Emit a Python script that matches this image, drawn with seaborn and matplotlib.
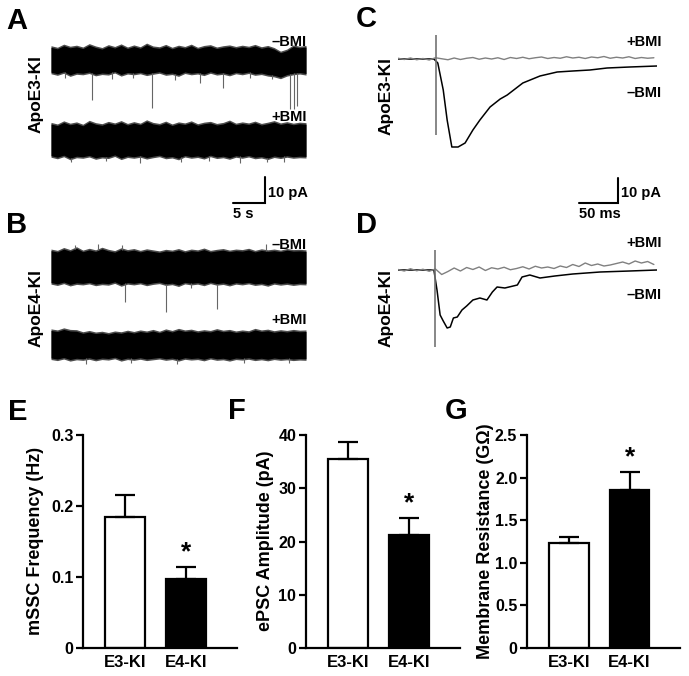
import numpy as np
import pandas as pd
import seaborn as sns
import matplotlib
import matplotlib.pyplot as plt
matplotlib.use('Agg')

# ---- data ----
# bar panels (mean, SEM)
groups = ['E3-KI', 'E4-KI']
freq_mean = [0.184, 0.097]
freq_sem = [0.031, 0.017]
amp_mean = [35.5, 21.2]
amp_sem = [3.2, 3.2]
res_mean = [1.23, 1.85]
res_sem = [0.07, 0.22]

# mini-current recordings (A, B): noise envelope (pA around baseline) every 1 s
band_t = np.linspace(0, 40, 41)
a_minus_top = [4.9, 4.3, 5.5, 4.7, 5.1, 4.4, 5.7, 4.8, 4.2, 5.3, 4.6, 5.6, 4.4, 5.2, 4.5, 5.9, 4.8, 4.5, 5.4, 4.3, 5.1,
               4.6, 5.5, 4.3, 5.0, 5.3, 4.4, 4.9, 5.2, 4.6, 5.1, 4.7, 5.4, 4.5, 5.0, 4.2, 2.8, 3.6, 5.2, 4.7, 5.0]
a_minus_bot = [-4.7, -5.3, -4.5, -5.7, -4.9, -5.1, -4.6, -5.5, -5.0, -5.2, -4.4, -5.6, -4.8, -5.1, -4.7, -5.4, -4.9,
               -4.5, -5.3, -5.0, -5.7, -4.6, -5.1, -4.8, -5.4, -4.5, -5.2, -4.9, -5.5, -4.7, -5.1, -4.6, -5.3, -5.0,
               -5.6, -5.9, -6.6, -5.6, -5.1, -4.8, -5.2]
a_plus_top = [6.2, 5.6, 6.8, 5.9, 6.4, 5.5, 7.0, 6.1, 5.7, 6.6, 6.0, 6.9, 5.8, 6.5, 5.9, 7.2, 6.2, 5.8, 6.7, 5.6, 6.4,
              6.0, 6.8, 5.7, 6.3, 6.6, 5.8, 6.2, 7.1, 5.9, 6.4, 6.0, 6.7, 5.8, 6.3, 6.9, 6.0, 6.5, 5.9, 6.3, 6.1]
a_plus_bot = [-6.0, -6.6, -5.8, -7.0, -6.2, -6.4, -5.9, -6.8, -6.3, -6.5, -5.7, -6.9, -6.1, -6.4, -6.0, -6.7, -6.2,
              -5.8, -6.6, -6.3, -7.0, -5.9, -6.4, -6.1, -6.7, -5.8, -6.5, -6.2, -6.8, -6.0, -6.4, -5.9, -6.6, -6.3,
              -6.9, -6.1, -6.5, -6.0, -6.4, -6.2, -6.3]
b_minus_top = [6.3, 5.8, 6.9, 6.1, 7.2, 5.9, 6.6, 6.0, 7.0, 6.2, 5.7, 6.8, 6.1, 6.5, 5.8, 6.4, 6.0, 5.6, 6.2, 5.9, 6.5,
               5.7, 6.3, 6.0, 6.7, 5.8, 6.2, 6.5, 5.9, 6.3, 6.1, 6.6, 5.8, 6.4, 6.0, 6.3, 5.9, 6.5, 6.1, 6.2, 6.0]
b_minus_bot = [-6.0, -6.5, -5.8, -6.7, -6.1, -6.3, -5.9, -6.6, -6.2, -6.4, -5.7, -6.8, -6.0, -6.3, -5.9, -6.6, -6.1,
               -5.8, -6.5, -6.2, -6.9, -5.9, -6.3, -6.0, -6.6, -5.8, -6.4, -6.1, -6.7, -6.0, -6.3, -5.9, -6.5, -6.2,
               -6.8, -6.0, -6.4, -6.1, -6.5, -6.2, -6.3]
b_plus_top = [5.6, 5.2, 6.0, 5.4, 5.3, 4.5, 5.0, 4.4, 4.7, 4.2, 4.8, 4.5, 5.1, 4.6, 5.2, 4.8, 5.4, 4.7, 5.6, 5.0, 5.8,
              5.2, 5.5, 4.9, 5.3, 5.0, 5.7, 5.1, 5.4, 4.8, 5.2, 4.9, 5.8, 5.2, 5.5, 4.9, 5.3, 5.0, 5.4, 5.1, 5.2]
b_plus_bot = [-5.0, -5.4, -4.8, -5.6, -5.1, -5.3, -4.9, -5.5, -5.0, -5.2, -4.7, -5.6, -5.0, -5.3, -4.9, -5.4, -5.1,
              -4.8, -5.3, -5.0, -5.6, -4.9, -5.2, -5.0, -5.5, -4.8, -5.3, -5.1, -5.6, -5.0, -5.2, -4.9, -5.4, -5.1,
              -5.5, -5.0, -5.3, -5.1, -5.4, -5.2, -5.3]

# individual events (time s, tip pA)
a_minus_ev_t = [2.2, 6.4, 9.6, 12.8, 15.8, 19.5, 23.4, 27.0, 31.2, 34.6, 37.5, 38.1, 38.6]
a_minus_ev_y = [-7.0, -15.4, -7.4, -6.9, -18.5, -7.6, -8.8, -10.8, -7.1, -7.3, -19.0, -19.0, -17.7]
a_plus_ev_t = [3.1, 8.7, 13.9, 20.4, 24.8, 29.6, 33.9, 36.5]
a_plus_ev_y = [-8.6, -8.2, -8.9, -8.4, -8.1, -8.8, -8.3, -8.5]
b_minus_ev_t = [3.8, 7.4, 11.1, 11.6, 18.0, 22.0, 26.0, 33.8]
b_minus_ev_y = [8.6, 8.9, 8.4, -13.5, -17.3, -8.0, -16.2, 8.7]
b_plus_ev_t = [5.5, 12.6, 19.8, 30.2, 37.3]
b_plus_ev_y = [-7.2, -7.0, -7.4, -6.9, -7.1]

# evoked currents (C, D): time ms, current pA
c_black_t = [0, 46, 51, 58, 63, 69, 77, 86, 96, 105, 118, 131, 140, 160, 182, 204, 224, 246, 268, 297, 332]
c_black_y = [0, 0, -1.6, -12.4, -24.4, -35.2, -35.2, -33.6, -28.4, -24.4, -19.2, -16.0, -14.4, -9.6, -6.8,
             -5.2, -4.8, -4.4, -3.6, -3.2, -2.8]
d_black_t = [0, 46, 50, 54, 58, 63, 67, 71, 76, 82, 88, 96, 105, 114, 121, 127, 137, 153, 159, 169, 182, 201,
             224, 259, 297, 332]
d_black_y = [0, 0, -8.0, -18.0, -20.4, -23.2, -22.8, -19.2, -18.8, -16.0, -14.4, -12.0, -11.2, -12.0, -8.8,
             -6.8, -7.2, -6.0, -2.8, -2.0, -3.2, -2.4, -1.6, -0.8, -0.4, 0]
gray_t = list(range(0, 333, 8))
c_gray_y = [0.3, -0.2, 0.4, -0.3, 0.2, -0.4, 0.5, 0.1, -0.3, 0.4, -0.2, 0.3, 0.6, -0.1, 0.4, 0.0, 0.5, -0.2, 0.6,
            0.2, 0.7, 0.1, 0.5, 0.8, 0.2, 0.6, 0.3, 0.9, 0.4, 0.7, 0.2, 0.8, 0.5, 1.0, 0.3, 0.7, 0.4, 0.9, 0.2, 0.6,
            0.3, 0.5]
d_gray_y = [0.2, -0.4, 0.5, -0.3, 0.3, -0.5, 0.4, -1.8, -0.6, 0.8, -0.4, 1.0, 0.2, 1.2, -0.2, 0.9, 0.4, 1.1, 0.1,
            0.6, 1.3, 0.4, 1.5, 0.8, 1.2, 0.6, 1.6, 1.0, 2.2, 1.4, 2.8, 1.8, 2.4, 1.6, 2.0, 2.6, 3.2, 2.4, 3.6, 2.8,
            3.4, 2.2]
c_stim = (48.7, -30.4, 9.6)
d_stim = (47.4, -30.8, 8.0)

# ---- layout helpers (pixels of the 689x676 figure) ----
W, H = 689, 676
sns.set_style('ticks')
plt.rcParams['font.family'] = ['Liberation Sans', 'DejaVu Sans']
plt.rcParams['font.weight'] = 'bold'
plt.rcParams['axes.labelweight'] = 'bold'
for key in ['text.color', 'axes.labelcolor', 'xtick.color', 'ytick.color', 'axes.edgecolor']:
    plt.rcParams[key] = 'black'

fig = plt.figure(figsize=(W / 100, H / 100), dpi=100)


def add_ax(left, right, top, bottom):
    return fig.add_axes([left / W, 1 - bottom / H, (right - left) / W, (bottom - top) / H])


def ftext(x, y, s, **kw):
    fig.text(x / W, 1 - y / H, s, **kw)


def draw_band(ax, top, bot, off, ev_t, ev_y):
    top = np.array(top) + off
    bot = np.array(bot) + off
    ax.fill_between(band_t, top + 0.6, bot - 0.6, color='0.3', lw=0)
    ax.fill_between(band_t, top, bot, color='black', lw=0)
    ev_y = np.array(ev_y)
    base = np.where(ev_y < 0, np.interp(ev_t, band_t, bot), np.interp(ev_t, band_t, top))
    ax.vlines(ev_t, base, ev_y + off, color='0.4', lw=0.8)


# ---- A and B ----
k_ab = 2.6
ax_a = add_ax(51, 306, 30, 220)
draw_band(ax_a, a_minus_top, a_minus_bot, 0, a_minus_ev_t, a_minus_ev_y)
draw_band(ax_a, a_plus_top, a_plus_bot, -30.8, a_plus_ev_t, a_plus_ev_y)
ax_a.plot([33.6, 33.6, 28.6], [-45.0, -55.0, -55.0], color='black', lw=1.5, solid_joinstyle='miter')
ax_a.set_xlim(0, 40)
ax_a.set_ylim(-(220 - 60) / k_ab, (60 - 30) / k_ab)
ax_a.axis('off')

ax_b = add_ax(51, 306, 205, 380)
draw_band(ax_b, b_minus_top, b_minus_bot, 0, b_minus_ev_t, b_minus_ev_y)
draw_band(ax_b, b_plus_top, b_plus_bot, -30.0, b_plus_ev_t, b_plus_ev_y)
ax_b.set_xlim(0, 40)
ax_b.set_ylim(-(380 - 267) / k_ab, (267 - 205) / k_ab)
ax_b.axis('off')

# ---- C and D ----
k_cd = 2.5


def draw_epsc(ax, bt, by, gy, stim):
    sns.lineplot(x=bt, y=by, ax=ax, color='black', lw=1.1)
    sns.lineplot(x=gray_t, y=gy, ax=ax, color='0.5', lw=1.0)
    ax.vlines(stim[0], stim[1], stim[2], color='0.45', lw=1.2)
    ax.set_xlim(0, 332)
    ax.axis('off')


ax_c = add_ax(398, 657, 30, 220)
draw_epsc(ax_c, c_black_t, c_black_y, c_gray_y, c_stim)
ax_c.plot([282, 282, 232], [-47.6, -57.6, -57.6], color='black', lw=1.5, solid_joinstyle='miter')
ax_c.set_ylim(-(220 - 59) / k_cd, (59 - 30) / k_cd)

ax_d = add_ax(398, 657, 240, 360)
draw_epsc(ax_d, d_black_t, d_black_y, d_gray_y, d_stim)
ax_d.set_ylim(-(360 - 270) / k_cd, (270 - 240) / k_cd)

# trace texts
lab = dict(fontsize=10.5, fontweight='bold', va='baseline')
ftext(307, 46, '\u2013BMI', ha='right', **lab)
ftext(307, 121, '+BMI', ha='right', **lab)
ftext(307, 249, '\u2013BMI', ha='right', **lab)
ftext(307, 324, '+BMI', ha='right', **lab)
ftext(662, 46, '+BMI', ha='right', **lab)
ftext(662, 97, '\u2013BMI', ha='right', **lab)
ftext(662, 247, '+BMI', ha='right', **lab)
ftext(662, 299, '\u2013BMI', ha='right', **lab)
ftext(268, 197, '10 pA', ha='left', **lab)
ftext(233, 218, '5 s', ha='left', **lab)
ftext(621, 197, '10 pA', ha='left', **lab)
ftext(579, 218, '50 ms', ha='left', **lab)

geno = dict(fontsize=12.5, fontweight='bold', rotation=90, ha='center', va='center')
ftext(36, 94, 'ApoE3-KI', **geno)
ftext(36, 308, 'ApoE4-KI', **geno)
ftext(386, 96, 'ApoE3-KI', **geno)
ftext(386, 308, 'ApoE4-KI', **geno)

# ---- E, F, G bar charts ----


def bar_panel(left, right, means, sems, ymax, ticks, ticklabels, ylabel, label_x):
    ax = add_ax(left, right, 435, 648)
    df = pd.DataFrame({'group': groups, 'value': means})
    sns.barplot(data=df, x='group', y='value', hue='group', palette=['white', 'black'],
                edgecolor='black', linewidth=1.6, width=0.65, errorbar=None, legend=False, ax=ax)
    ax.errorbar([0, 1], means, yerr=[[0, 0], sems], fmt='none', ecolor='black',
                elinewidth=1.6, capsize=7, capthick=1.6, zorder=1)
    ax.annotate('*', xy=(1, means[1] + sems[1]), xytext=(0, 2), textcoords='offset points',
                ha='center', va='bottom', fontsize=19, fontweight='bold')
    ax.set_xlim(-0.69, 1.83)
    ax.set_ylim(0, ymax)
    ax.set_yticks(ticks)
    ax.set_yticklabels(ticklabels)
    ax.set_xlabel('')
    ax.set_ylabel('')
    sns.despine(ax=ax)
    for s in ['left', 'bottom']:
        ax.spines[s].set_linewidth(1.6)
    ax.tick_params(axis='y', direction='out', length=5, width=1.6, labelsize=11.5, pad=2)
    ax.tick_params(axis='x', length=0, labelsize=12, pad=5)
    for t in ax.get_xticklabels() + ax.get_yticklabels():
        t.set_fontweight('bold')
    ftext(label_x, 541, ylabel, fontsize=13, fontweight='bold', rotation=90, ha='center', va='center')
    return ax


bar_panel(83, 237, freq_mean, freq_sem, 0.3, [0, 0.1, 0.2, 0.3], ['0', '0.1', '0.2', '0.3'],
          'mSSC Frequency (Hz)', 36)
bar_panel(306, 460, amp_mean, amp_sem, 40, [0, 10, 20, 30, 40], ['0', '10', '20', '30', '40'],
          'ePSC Amplitude (pA)', 265)
bar_panel(527, 680, res_mean, res_sem, 2.5, [0, 0.5, 1.0, 1.5, 2.0, 2.5],
          ['0', '0.5', '1.0', '1.5', '2.0', '2.5'], 'Membrane Resistance (G\u03a9)', 486)

# panel letters
let = dict(fontsize=21, fontweight='bold', ha='left', va='top')
ftext(6, 7, 'A', **let)
ftext(6, 211, 'B', **let)
ftext(356, 5, 'C', **let)
ftext(356, 211, 'D', **let)
ftext(8, 398, 'E', **let)
ftext(228, 397, 'F', **let)
ftext(445, 397, 'G', **let)

fig.savefig('out.png', dpi=100)
